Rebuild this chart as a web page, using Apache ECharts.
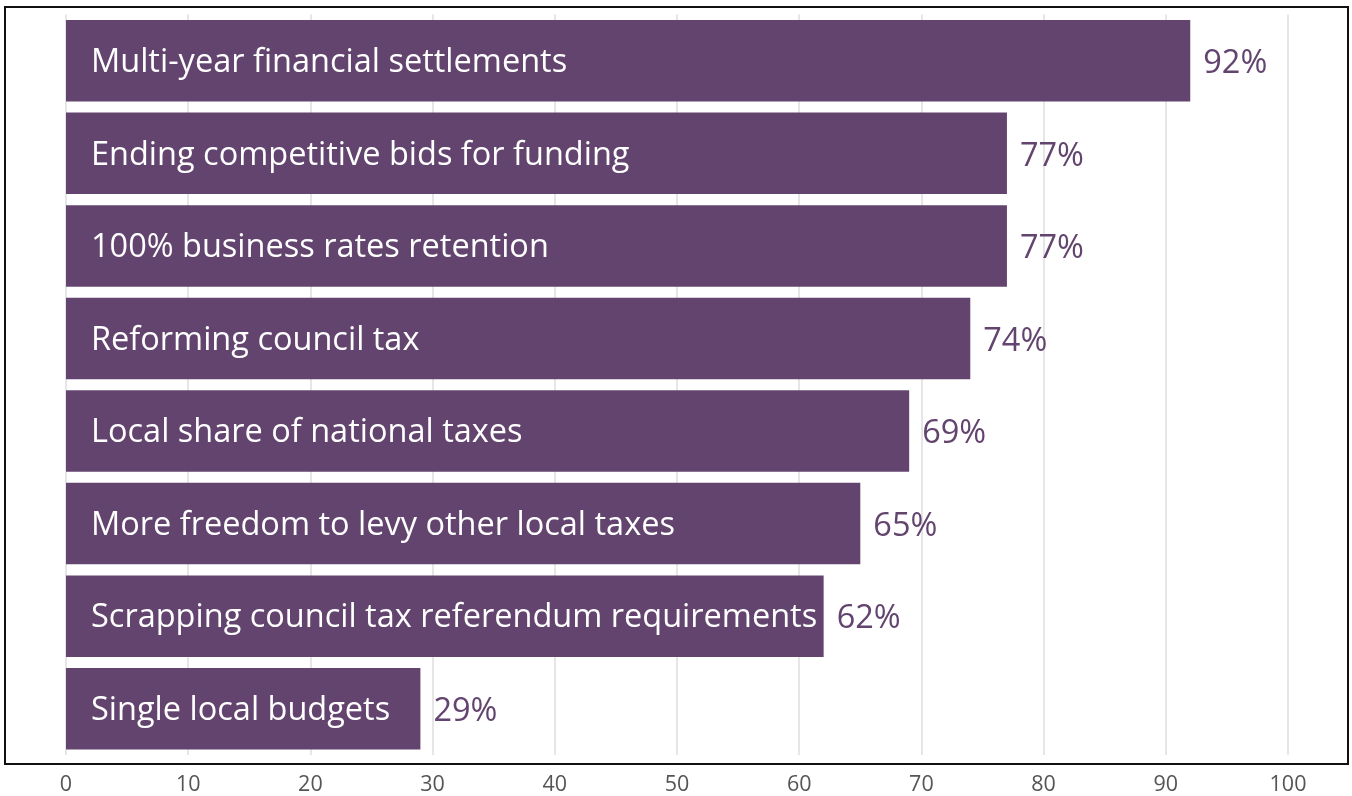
<!DOCTYPE html>
<html>
<head>
<meta charset="utf-8">
<script src="https://cdn.jsdelivr.net/npm/echarts@6/dist/echarts.min.js"></script>
<style>
  html, body { margin: 0; padding: 0; background: #fff; }
  #chart { width: 1352px; height: 796px; }
</style>
</head>
<body>
<div id="chart"></div>
<script>
// Share of respondents backing each local finance reform (%)
const categories = [
  'Multi-year financial settlements',
  'Ending competitive bids for funding',
  '100% business rates retention',
  'Reforming council tax',
  'Local share of national taxes',
  'More freedom to levy other local taxes',
  'Scrapping council tax referendum requirements',
  'Single local budgets'
];
const values = [92, 77, 77, 74, 69, 65, 62, 29];
const xTicks = [0, 10, 20, 30, 40, 50, 60, 70, 80, 90, 100];

const purple = '#63446f';
const font = '"Open Sans", "Noto Sans", sans-serif';

const chart = echarts.init(document.getElementById('chart'), null, { renderer: 'canvas' });

chart.setOption({
  animation: false,
  backgroundColor: '#ffffff',
  grid: { left: 66, right: 64, top: 14.5, bottom: 39.5, containLabel: false },
  xAxis: {
    type: 'value',
    min: xTicks[0],
    max: xTicks[xTicks.length - 1],
    interval: 10,
    axisLine: { show: false },
    axisTick: { show: false },
    axisLabel: { color: '#555', fontSize: 21.5, fontFamily: font, margin: 19 },
    splitLine: { show: true, lineStyle: { color: '#e6e6e6', width: 2 } }
  },
  yAxis: {
    type: 'category',
    data: categories,
    inverse: true,
    axisLine: { show: false },
    axisTick: { show: false },
    axisLabel: { show: false },
    splitLine: { show: false }
  },
  series: [
    {
      // category names written inside each bar
      type: 'bar',
      data: values,
      barCategoryGap: '12%',
      itemStyle: { color: purple },
      label: {
        show: true,
        position: 'insideLeft',
        distance: 25,
        offset: [0, 2],
        formatter: '{b}',
        color: '#ffffff',
        fontSize: 32.5,
        fontFamily: font
      },
      z: 3
    },
    {
      // transparent overlay carrying the percentage to the right of each bar
      type: 'bar',
      data: values,
      barGap: '-100%',
      barCategoryGap: '12%',
      itemStyle: { color: 'rgba(0,0,0,0)' },
      label: {
        show: true,
        position: 'right',
        distance: 13,
        offset: [0, 3],
        formatter: '{c}%',
        color: purple,
        fontSize: 32.5,
        fontFamily: font
      },
      z: 4
    }
  ],
  graphic: [
    {
      type: 'rect',
      shape: { x: 5, y: 7, width: 1343, height: 757 },
      style: { fill: 'none', stroke: '#111', lineWidth: 2 },
      z: 10,
      silent: true
    }
  ]
});
</script>
</body>
</html>
